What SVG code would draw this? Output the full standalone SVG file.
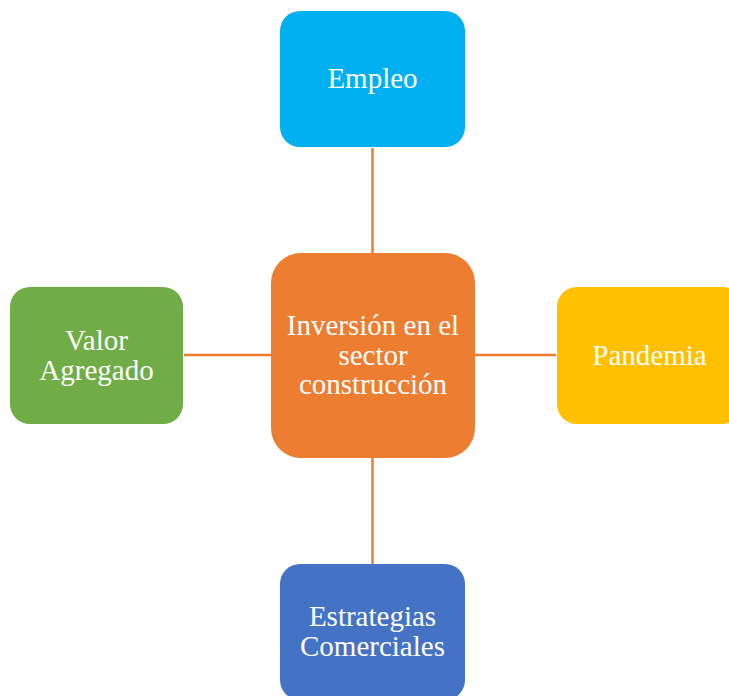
<svg xmlns="http://www.w3.org/2000/svg" width="729" height="696" viewBox="0 0 729 696">
<style>
.t{font-family:"Liberation Serif","Times New Roman",serif;font-size:29px;fill:#fff;text-anchor:middle}
.c{stroke:#ED7D31;stroke-width:2.5;fill:none}
</style>
<rect width="729" height="696" fill="#fff"/>
<g id="connectors">
<line class="c" x1="372.5" y1="148" x2="372.5" y2="253"/>
<line class="c" x1="372.5" y1="458" x2="372.5" y2="564"/>
<line class="c" x1="184" y1="355" x2="271" y2="355"/>
<line class="c" x1="475" y1="355" x2="556" y2="355"/>
</g>
<g id="empleo">
<rect x="280" y="11" width="185" height="136" rx="20" fill="#00B0F0"/>
<text class="t" x="372.5" y="88">Empleo</text>
</g>
<g id="centro">
<rect x="271" y="253" width="204" height="205" rx="30" fill="#ED7D31"/>
<text class="t" x="373" y="335">Inversión en el</text>
<text class="t" x="373" y="365">sector</text>
<text class="t" x="373" y="394">construcción</text>
</g>
<g id="valor">
<rect x="10" y="287" width="173" height="137" rx="20" fill="#70AD47"/>
<text class="t" x="96.5" y="350">Valor</text>
<text class="t" x="96.5" y="380">Agregado</text>
</g>
<g id="pandemia">
<rect x="557" y="287" width="185" height="137" rx="20" fill="#FFC000"/>
<text class="t" x="649.5" y="365">Pandemia</text>
</g>
<g id="estrategias">
<rect x="280" y="564" width="185" height="136" rx="20" fill="#4472C4"/>
<text class="t" x="372.5" y="626">Estrategias</text>
<text class="t" x="372.5" y="656">Comerciales</text>
</g>
</svg>
